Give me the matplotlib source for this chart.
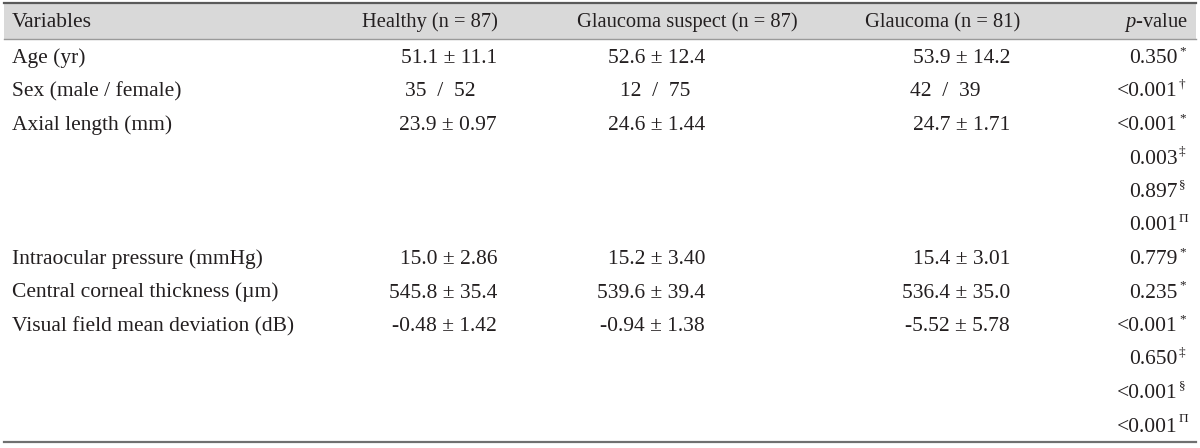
import matplotlib.pyplot as plt
from matplotlib.patches import Rectangle

plt.rcParams["font.family"] = ["Liberation Serif", "DejaVu Serif"]
plt.rcParams["mathtext.fontset"] = "custom"
plt.rcParams["mathtext.rm"] = "Liberation Serif"
plt.rcParams["mathtext.it"] = "Liberation Serif:italic"

# Table contents
columns = ["Variables", "Healthy (n = 87)", "Glaucoma suspect (n = 87)", "Glaucoma (n = 81)", r"$\mathit{p}$-value"]
variables = [
    "Age (yr)",
    "Sex (male / female)",
    "Axial length (mm)",
    "Intraocular pressure (mmHg)",
    "Central corneal thickness (\u00b5m)",
    "Visual field mean deviation (dB)",
]
healthy = ["51.1 \u00b1 11.1", "35\u2002/\u200252", "23.9 \u00b1 0.97", "15.0 \u00b1 2.86", "545.8 \u00b1 35.4", "-0.48 \u00b1 1.42"]
suspect = ["52.6 \u00b1 12.4", "12\u2002/\u200275", "24.6 \u00b1 1.44", "15.2 \u00b1 3.40", "539.6 \u00b1 39.4", "-0.94 \u00b1 1.38"]
glaucoma = ["53.9 \u00b1 14.2", "42\u2002/\u200239", "24.7 \u00b1 1.71", "15.4 \u00b1 3.01", "536.4 \u00b1 35.0", "-5.52 \u00b1 5.78"]
p_values = [
    [("0.350", "*")],
    [("<0.001", "\u2020")],
    [("<0.001", "*"), ("0.003", "\u2021"), ("0.897", "\u00a7"), ("0.001", "\u03a0")],
    [("0.779", "*")],
    [("0.235", "*")],
    [("<0.001", "*"), ("0.650", "\u2021"), ("<0.001", "\u00a7"), ("<0.001", "\u03a0")],
]

W, H = 1200, 448
fig = plt.figure(figsize=(W / 100, H / 100), dpi=100)
ax = fig.add_axes([0, 0, 1, 1])
ax.set_xlim(0, W)
ax.set_ylim(H, 0)
ax.axis("off")

fs = 15.5
fs_head = 14.8
ink = "#231f20"

# header band and rules
ax.add_patch(Rectangle((4, 3), W - 8, 36, facecolor="#d9d9d9", edgecolor="none"))
ax.plot([4, W - 4], [3, 3], color="#5a5a5a", lw=1.6)
ax.plot([4, W - 4], [39, 39], color="#9a9a9a", lw=1.0)
ax.plot([4, W - 4], [442, 442], color="#707070", lw=1.6)

# header texts
head_y = 27
ax.text(12, head_y, columns[0], fontsize=fs, color=ink, ha="left", va="baseline")
ax.text(430, head_y, columns[1], fontsize=fs_head, color=ink, ha="center", va="baseline")
ax.text(687, head_y, columns[2], fontsize=fs_head, color=ink, ha="center", va="baseline")
ax.text(943, head_y, columns[3], fontsize=fs_head, color=ink, ha="center", va="baseline")
ax.text(1188, head_y, columns[4], fontsize=fs_head, color=ink, ha="right", va="baseline")

# body
first_y, step = 63, 33.5
right_edges = [497, 705, 1010]
sex_centers = [440, 655, 945]
line = 0
for i, var in enumerate(variables):
    y = first_y + line * step
    ax.text(12, y, var, fontsize=fs, color=ink, ha="left", va="baseline")
    for col, vals in enumerate([healthy, suspect, glaucoma]):
        if "/" in vals[i]:
            ax.text(sex_centers[col], y, vals[i], fontsize=fs, color=ink, ha="center", va="baseline")
        else:
            ax.text(right_edges[col], y, vals[i], fontsize=fs, color=ink, ha="right", va="baseline")
    for val, mark in p_values[i]:
        yy = first_y + line * step
        ax.text(1178, yy, val, fontsize=fs, color=ink, ha="right", va="baseline")
        ax.text(1179, yy - 9, mark, fontsize=9.5, color=ink, ha="left", va="baseline")
        line += 1

fig.savefig("out.png", dpi=100)
